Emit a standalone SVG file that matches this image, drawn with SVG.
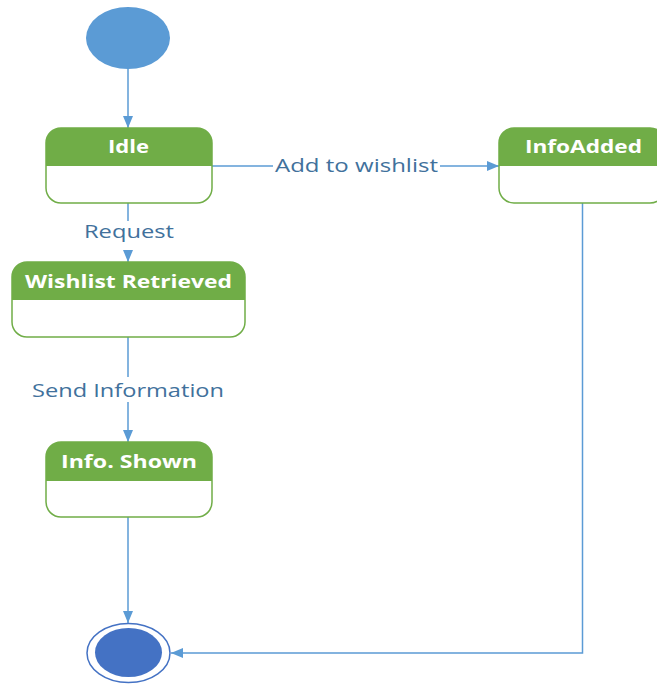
<svg xmlns="http://www.w3.org/2000/svg" width="657" height="684" viewBox="0 0 657 684">
  <style>
    .box { fill: none; stroke: #70AD47; stroke-width: 1.5; }
    .head { fill: #70AD47; }
    .title { font-family: "Open Sans", "Noto Sans", sans-serif; font-size: 18px; font-weight: bold; fill: #ffffff; text-anchor: middle; }
    .edge { fill: none; stroke: #5B9BD5; stroke-width: 1.5; }
    .lbl { font-family: "Open Sans", "Noto Sans", sans-serif; font-size: 18px; fill: #41719C; text-anchor: middle; }
    .gap { fill: #ffffff; }
  </style>
  <defs>
    <marker id="arrow" viewBox="0 0 12 10" refX="12" refY="5" markerWidth="12" markerHeight="10" markerUnits="userSpaceOnUse" orient="auto">
      <path d="M0,0 L12,5 L0,10 Z" fill="#5B9BD5"/>
    </marker>
    <!-- state shape: rounded box with a green header band -->
    <clipPath id="clipIdle"><rect x="46" y="128" width="166" height="75" rx="15"/></clipPath>
    <clipPath id="clipAdded"><rect x="499" y="128" width="166" height="75" rx="15"/></clipPath>
    <clipPath id="clipWish"><rect x="12" y="262" width="233" height="75" rx="15"/></clipPath>
    <clipPath id="clipShown"><rect x="46" y="442" width="166" height="75" rx="15"/></clipPath>
  </defs>

  <g id="connectors">
    <line class="edge" x1="128" y1="69" x2="128" y2="128" marker-end="url(#arrow)"/>
    <line class="edge" x1="212" y1="166" x2="499" y2="166" marker-end="url(#arrow)"/>
    <line class="edge" x1="128" y1="203" x2="128" y2="262" marker-end="url(#arrow)"/>
    <line class="edge" x1="128" y1="337" x2="128" y2="442" marker-end="url(#arrow)"/>
    <line class="edge" x1="128" y1="517" x2="128" y2="623" marker-end="url(#arrow)"/>
    <polyline class="edge" points="582.5,203 582.5,653 171,653" marker-end="url(#arrow)"/>
    <rect class="gap" x="273" y="156" width="167" height="20"/>
    <text class="lbl" x="356.5" y="172" textLength="163" lengthAdjust="spacingAndGlyphs">Add to wishlist</text>
    <rect class="gap" x="82" y="221" width="94" height="29"/>
    <text class="lbl" x="129" y="238" textLength="90" lengthAdjust="spacingAndGlyphs">Request</text>
    <rect class="gap" x="30" y="377" width="196" height="25"/>
    <text class="lbl" x="128" y="396.5" textLength="192" lengthAdjust="spacingAndGlyphs">Send Information</text>
  </g>

  <g id="start">
    <ellipse cx="128" cy="38" rx="42" ry="31" fill="#5B9BD5"/>
  </g>

  <g id="idle">
    <rect x="46" y="128" width="166" height="75" rx="15" fill="#ffffff"/>
    <rect class="head" x="46" y="128" width="166" height="38" clip-path="url(#clipIdle)"/>
    <rect class="box" x="46" y="128" width="166" height="75" rx="15"/>
    <text class="title" x="128.5" y="153" textLength="41" lengthAdjust="spacingAndGlyphs">Idle</text>
  </g>

  <g id="info-added">
    <rect x="499" y="128" width="166" height="75" rx="15" fill="#ffffff"/>
    <rect class="head" x="499" y="128" width="166" height="38" clip-path="url(#clipAdded)"/>
    <rect class="box" x="499" y="128" width="166" height="75" rx="15"/>
    <text class="title" x="583.5" y="153" textLength="117" lengthAdjust="spacingAndGlyphs">InfoAdded</text>
  </g>

  <g id="wishlist-retrieved">
    <rect x="12" y="262" width="233" height="75" rx="15" fill="#ffffff"/>
    <rect class="head" x="12" y="262" width="233" height="38" clip-path="url(#clipWish)"/>
    <rect class="box" x="12" y="262" width="233" height="75" rx="15"/>
    <text class="title" x="128.5" y="288" textLength="207" lengthAdjust="spacingAndGlyphs">Wishlist Retrieved</text>
  </g>

  <g id="info-shown">
    <rect x="46" y="442" width="166" height="75" rx="15" fill="#ffffff"/>
    <rect class="head" x="46" y="442" width="166" height="39" clip-path="url(#clipShown)"/>
    <rect class="box" x="46" y="442" width="166" height="75" rx="15"/>
    <text class="title" x="129" y="468" textLength="136" lengthAdjust="spacingAndGlyphs">Info. Shown</text>
  </g>

  <g id="final">
    <ellipse cx="128.5" cy="653" rx="41.5" ry="29.5" fill="#ffffff" stroke="#4472C4" stroke-width="1.5"/>
    <ellipse cx="128.5" cy="652.5" rx="33.5" ry="24.5" fill="#4472C4"/>
  </g>
</svg>
